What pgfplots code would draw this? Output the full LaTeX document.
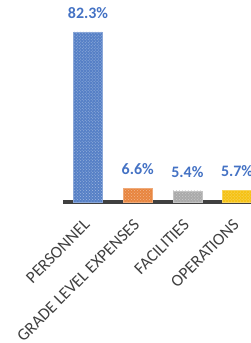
\documentclass[border=0pt]{standalone}
\usepackage{pgfplots}
\pgfplotsset{compat=1.18}
\usetikzlibrary{patterns}
\usepackage{fontspec}
\setmainfont{Carlito}
\definecolor{cblue}{HTML}{5680C6}
\definecolor{corange}{HTML}{E8853F}
\definecolor{cgray}{HTML}{AAAAAA}
\definecolor{cgold}{HTML}{F5C215}
\definecolor{lblue}{HTML}{4472C4}
\definecolor{dgray}{HTML}{404040}
\begin{document}
\begin{tikzpicture}
\begin{axis}[
  at={(63bp,141bp)}, anchor=south west,
  scale only axis, width=188bp, height=175.6bp,
  xmin=-0.503, xmax=3.28, ymin=0, ymax=85,
  hide y axis, axis x line*=bottom,
  x axis line style={line width=3bp, dgray, -},
  xtick={0,1,2,3},
  xticklabels={PERSONNEL,GRADE LEVEL EXPENSES,FACILITIES,OPERATIONS},
  major tick length=0pt,
  xticklabel style={xshift=-5bp, yshift=-13bp, rotate=45, anchor=north east, font=\fontsize{17}{19}\selectfont, text=dgray, inner sep=2bp},
  ybar, bar width=29bp, bar shift=0pt,
  point meta=explicit symbolic,
  nodes near coords,
  every node near coord/.style={font=\fontsize{16}{18}\selectfont\bfseries, text=lblue, anchor=south, yshift=10bp},
  clip=false,
]
\addplot[fill=cblue, draw=cblue!70!white, postaction={pattern=crosshatch dots, pattern color=cblue!55!white}] table[meta=l] {
x y l
0 82.3 82.3\%
};
\addplot[fill=corange, draw=corange!70!white, postaction={pattern=crosshatch dots, pattern color=corange!60!white}] table[meta=l] {
x y l
1 6.6 6.6\%
};
\addplot[fill=cgray, draw=cgray!70!white, postaction={pattern=crosshatch dots, pattern color=cgray!60!white}] table[meta=l] {
x y l
2 5.4 5.4\%
};
\addplot[fill=cgold, draw=cgold!70!white, postaction={pattern=crosshatch dots, pattern color=cgold!60!white}] table[meta=l] {
x y l
3 5.7 5.7\%
};
\end{axis}
\pgfresetboundingbox
\useasboundingbox (0,0) rectangle (251bp,343bp);
\end{tikzpicture}
\end{document}
